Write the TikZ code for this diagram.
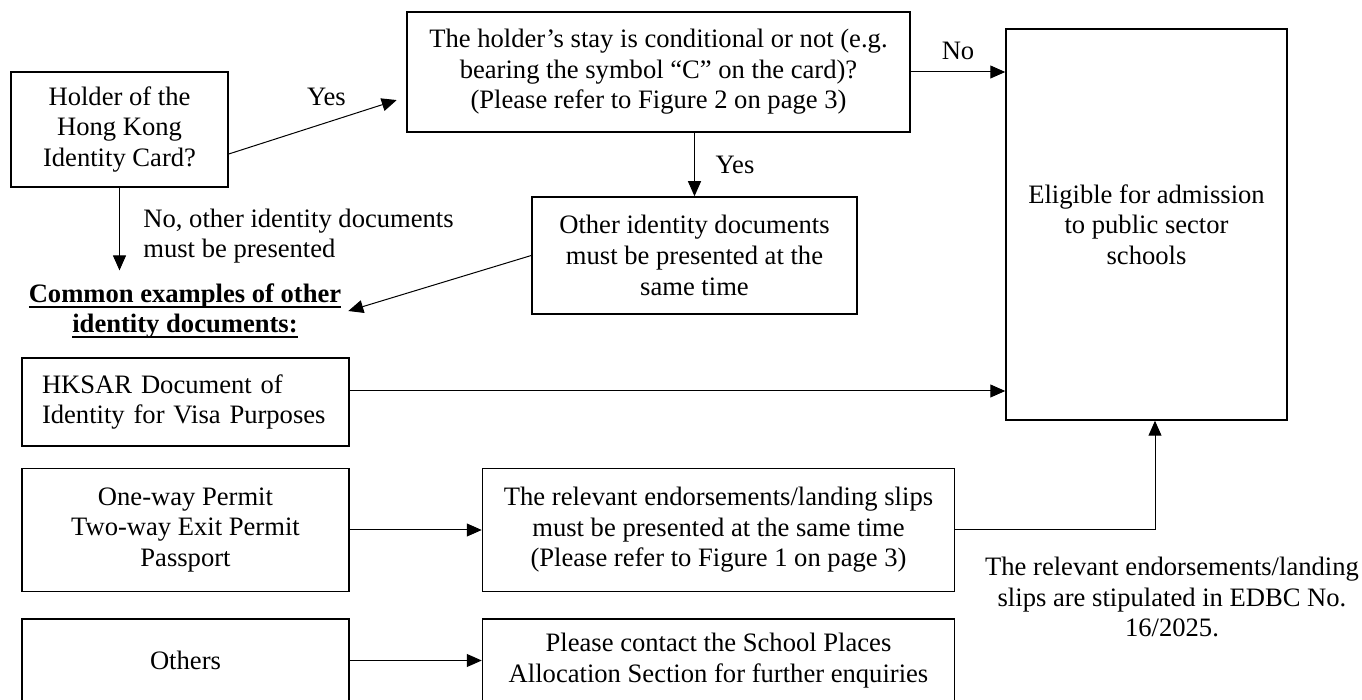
\documentclass[tikz,border=0pt]{standalone}
\usepackage{fontspec}
\setmainfont{Liberation Serif}
\usetikzlibrary{positioning,arrows.meta}
\newsavebox\headbox
\newcommand{\headul}[1]{\sbox\headbox{#1}\rlap{\rule[-2.75pt]{\wd\headbox}{1pt}}\usebox\headbox}

\begin{document}
\begin{tikzpicture}[
  every node/.style={font=\fontsize{13.3pt}{15.3pt}\selectfont},
  box/.style={draw, rectangle, line width=0.75pt, align=center, inner sep=2pt},
  arr/.style={-{Triangle[length=7.5pt,width=6.5pt]}, line width=0.5pt}
]
  \useasboundingbox (0,0) rectangle (681pt,-350pt);

  \node[box, minimum width=108.5pt, minimum height=57.5pt] (holder) at (59.75pt,-64.75pt) {Holder of the\\Hong Kong\\Identity Card?};
  \node[box, minimum width=251.5pt, minimum height=60pt] (stay) at (329.25pt,-36pt) {The holder’s stay is conditional or not (e.g.\\bearing the symbol “C” on the card)?\\(Please refer to Figure 2 on page 3)};
  \node[box, minimum width=162.5pt, minimum height=58.5pt] (otherid) at (347.25pt,-127.75pt) {Other identity documents\\must be presented at the\\same time};
  \node[box, minimum width=140.5pt, minimum height=195.5pt] (elig) at (573.25pt,-112.25pt) {Eligible for admission\\to public sector\\schools};

  \node[align=center, font=\fontsize{13.3pt}{15.3pt}\selectfont\bfseries] (heading) at (92.5pt,-155.5pt) {\headul{Common examples of other}\\\headul{identity documents:}};
  \node[anchor=west, align=left, inner sep=0pt] (nolabel) at (71.5pt,-118pt) {No, other identity documents\\must be presented};

  \node[box, text width=143.5pt, align=left, inner xsep=10pt, minimum height=44pt] (hksar) at (92.75pt,-201pt) {HKSAR Document of\\Identity for Visa Purposes};
  \node[box, minimum width=163.5pt, minimum height=61.5pt, below=10.5pt of hksar] (oneway) {One-way Permit\\Two-way Exit Permit\\Passport};
  \node[box, minimum width=163.5pt, minimum height=41.5pt, below=13pt of oneway] (others) {Others};
  \node[box, minimum width=236pt, minimum height=61.5pt, right=66pt of oneway] (relevant) {The relevant endorsements/landing slips\\must be presented at the same time\\(Please refer to Figure 1 on page 3)};
  \node[box, minimum width=236pt, minimum height=41.5pt, right=66pt of others] (contact) {Please contact the School Places\\Allocation Section for further enquiries};

  \node[align=center] (note) at (586pt,-298.5pt) {The relevant endorsements/landing\\slips are stipulated in EDBC No.\\16/2025.};

  \coordinate (holdout) at ([yshift=-12.25pt]holder.east);
  \coordinate (stayin) at ([yshift=-12.5pt]stay.west);
  \coordinate (hkout) at ([yshift=5.5pt]hksar.east);
  \coordinate (eligin) at ([xshift=4.25pt]elig.south);

  \draw[arr, shorten >=5pt] (holdout) -- node[pos=0.55, above=5pt] (yesa) {Yes} (stayin);
  \draw[arr, shorten >=3pt] (holder.south) -- (holder.south |- heading.north);
  \draw[arr] (otherid.north |- stay.south) -- node[right=7pt] (yesb) {Yes} (otherid.north);
  \draw[arr] (stay.east) -- node[above=2.5pt] (noa) {No} (stay.east -| elig.west);
  \draw[arr] (otherid.west) -- (heading.east);
  \draw[arr] (hkout) -- (hkout -| elig.west);
  \draw[arr] (oneway.east) -- (oneway.east -| relevant.west);
  \draw[arr] (others.east) -- (others.east -| contact.west);
  \draw[arr] (relevant.east) -| (eligin);
\end{tikzpicture}
\end{document}
